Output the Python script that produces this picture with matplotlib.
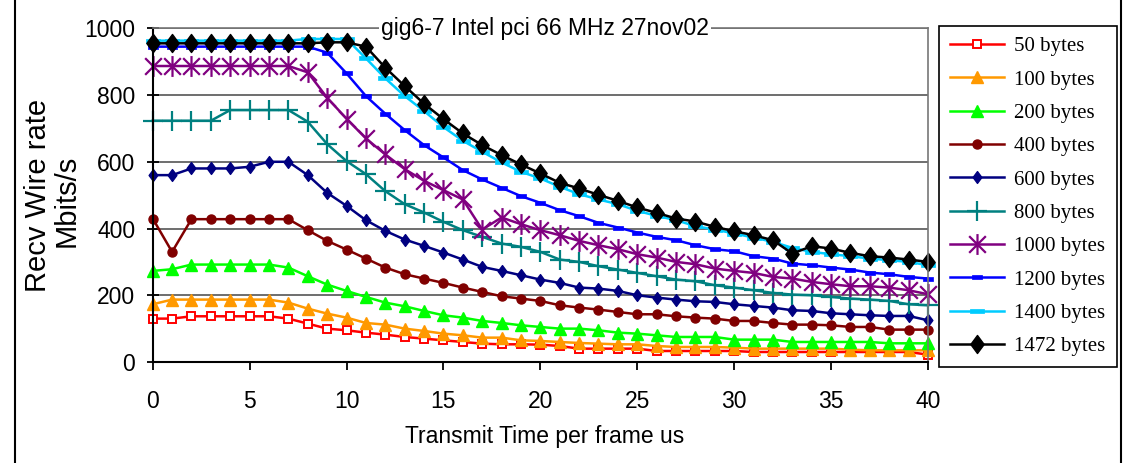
import numpy as np
import matplotlib
matplotlib.use("Agg")
import matplotlib.pyplot as plt
from matplotlib.path import Path
from matplotlib.lines import Line2D
from matplotlib import font_manager

# ---- data -------------------------------------------------------------
transmit_time = list(range(41))  # us per frame

b50 = [130, 130, 137, 137, 137, 137, 137, 130, 115, 100, 95, 88, 82, 75, 70, 65, 60, 55, 53, 53,
       52, 48, 40, 40, 40, 40, 33, 33, 33, 33, 33, 30, 30, 30, 30, 30, 30, 30, 30, 30, 22]
b100 = [173, 187, 187, 187, 187, 187, 187, 178, 160, 145, 133, 117, 112, 100, 93, 85, 80, 73, 73, 65,
        63, 60, 57, 55, 53, 53, 48, 45, 45, 45, 43, 40, 40, 40, 40, 40, 37, 35, 35, 35, 35]
b200 = [273, 278, 292, 292, 292, 292, 292, 283, 257, 232, 213, 195, 178, 167, 153, 140, 133, 123, 117, 110,
        105, 100, 100, 95, 88, 85, 80, 75, 75, 75, 67, 67, 67, 60, 60, 60, 60, 60, 56, 56, 56]
b400 = [430, 330, 428, 428, 428, 428, 428, 428, 395, 363, 337, 310, 283, 263, 250, 237, 223, 210, 197, 190,
        183, 170, 163, 157, 150, 143, 143, 137, 133, 130, 123, 123, 117, 112, 112, 110, 105, 105, 97, 97, 97]
b600 = [560, 560, 580, 580, 580, 585, 600, 600, 560, 507, 468, 425, 393, 367, 348, 328, 307, 285, 273, 260,
        247, 237, 223, 220, 213, 200, 193, 187, 182, 180, 173, 168, 163, 155, 153, 146, 143, 140, 138, 138, 125]
b800 = [723, 723, 723, 723, 755, 755, 755, 755, 720, 653, 602, 563, 512, 473, 448, 420, 395, 375, 355, 345,
        330, 307, 300, 287, 277, 267, 257, 247, 242, 230, 223, 215, 207, 202, 200, 195, 190, 187, 183, 173, 170]
b1000 = [887, 887, 887, 887, 887, 887, 887, 887, 868, 792, 729, 670, 622, 578, 543, 515, 487, 397, 433, 413,
         395, 380, 363, 350, 338, 323, 313, 300, 293, 280, 273, 267, 255, 250, 240, 233, 227, 227, 223, 215, 203]
b1200 = [945, 945, 945, 945, 945, 945, 945, 945, 945, 927, 865, 797, 744, 695, 650, 613, 575, 547, 522, 497,
         477, 455, 437, 417, 403, 388, 375, 365, 350, 338, 332, 317, 310, 295, 290, 283, 277, 268, 263, 255, 250]
b1400 = [963, 963, 963, 963, 963, 963, 963, 963, 968, 968, 968, 910, 850, 797, 752, 704, 663, 630, 598, 570,
         550, 525, 503, 487, 473, 453, 438, 425, 407, 397, 385, 373, 360, 342, 330, 323, 317, 310, 305, 300, 290]
b1472 = [955, 955, 955, 955, 955, 955, 955, 955, 955, 958, 958, 945, 882, 827, 774, 728, 685, 650, 620, 592,
         565, 537, 520, 501, 483, 463, 447, 430, 421, 405, 392, 380, 365, 325, 347, 340, 327, 317, 313, 307, 300]

labels = ["50 bytes", "100 bytes", "200 bytes", "400 bytes", "600 bytes",
          "800 bytes", "1000 bytes", "1200 bytes", "1400 bytes", "1472 bytes"]
x_ticks = [0, 5, 10, 15, 20, 25, 30, 35, 40]
y_ticks = [0, 200, 400, 600, 800, 1000]

# ---- fonts ------------------------------------------------------------
installed = {f.name for f in font_manager.fontManager.ttflist}
if "Liberation Sans Narrow" in installed:
    narrow, nsize = "Liberation Sans Narrow", 20
else:
    narrow, nsize = "Liberation Sans", 16.5
serif = "Liberation Serif"

# ---- custom markers ---------------------------------------------------
diamond = Path([(0, 1.15), (0.85, 0), (0, -1.15), (-0.85, 0), (0, 1.15)],
               [Path.MOVETO, Path.LINETO, Path.LINETO, Path.LINETO, Path.CLOSEPOLY])
asterisk = Path([(0, -1), (0, 1), (-0.8, -0.8), (0.8, 0.8), (-0.8, 0.8), (0.8, -0.8)],
                [Path.MOVETO, Path.LINETO, Path.MOVETO, Path.LINETO, Path.MOVETO, Path.LINETO])
short_dash = Path([(-1, -0.45), (1, -0.45), (1, 0.45), (-1, 0.45), (-1, -0.45)],
                  [Path.MOVETO, Path.LINETO, Path.LINETO, Path.LINETO, Path.CLOSEPOLY])
long_dash = Path([(-1, -0.3), (1, -0.3), (1, 0.3), (-1, 0.3), (-1, -0.3)],
                 [Path.MOVETO, Path.LINETO, Path.LINETO, Path.LINETO, Path.CLOSEPOLY])

styles = [
    dict(color="#FF0000", marker="s", ms=5.5, mfc="white", mec="#FF0000", mew=1.4),
    dict(color="#FF9900", marker="^", ms=8, mfc="#FF9900", mec="#FF9900"),
    dict(color="#00FF00", marker="^", ms=8, mfc="#00FF00", mec="#00FF00"),
    dict(color="#800000", marker="o", ms=6.5, mfc="#800000", mec="#800000"),
    dict(color="#000080", marker=diamond, ms=8.5, mfc="#000080", mec="#000080"),
    dict(color="#008080", marker="+", ms=15, mew=1.6, mec="#008080"),
    dict(color="#800080", marker=asterisk, ms=15, mfc="none", mec="#800080", mew=1.6),
    dict(color="#0000FF", marker=short_dash, ms=7.5, mfc="#0000FF", mec="#0000FF", mew=0.5),
    dict(color="#00CCFF", marker=long_dash, ms=10.5, mfc="#00CCFF", mec="#00CCFF", mew=0.5),
    dict(color="#000000", marker=diamond, ms=13, mfc="#000000", mec="#000000"),
]
series = [b50, b100, b200, b400, b600, b800, b1000, b1200, b1400, b1472]

# ---- figure -----------------------------------------------------------
W, H = 1128, 463
fig = plt.figure(figsize=(W / 100, H / 100), dpi=100)
x0, x1, y0, y1 = 152.7, 928.0, 28.3, 362.0
ax = fig.add_axes([x0 / W, 1 - y1 / H, (x1 - x0) / W, (y1 - y0) / H])

for vals, lab, st in zip(series, labels, styles):
    ax.plot(transmit_time, vals, label=lab, lw=1.8, clip_on=False, **st)

ax.set_xlim(0, 40)
ax.set_ylim(0, 1000)
ax.set_xticks(x_ticks)
ax.set_yticks(y_ticks)
ax.set_xticklabels([str(v) for v in x_ticks], family=narrow, fontsize=nsize)
ax.set_yticklabels([str(v) for v in y_ticks], family=narrow, fontsize=nsize)
ax.tick_params(axis="x", direction="out", length=6, width=1.3, pad=14, color="black")
ax.tick_params(axis="y", direction="inout", length=9, width=1.3, pad=8, color="black")

ax.yaxis.grid(True, color="#555555", lw=1.2)
ax.set_axisbelow(True)
for side in ("left", "bottom"):
    ax.spines[side].set_color("black")
    ax.spines[side].set_linewidth(1.5)
for side in ("top", "right"):
    ax.spines[side].set_color("#777777")
    ax.spines[side].set_linewidth(1.2)

# title sits on the top border with a white backing
ax.text(0.506, 1.0, "gig6-7 Intel pci 66 MHz 27nov02", transform=ax.transAxes,
        ha="center", va="center", family=narrow, fontsize=nsize, zorder=10,
        bbox=dict(facecolor="white", edgecolor="none", pad=1.5))

fig.text(545 / W, 1 - 437 / H, "Transmit Time per frame us", ha="center", va="center",
         family=narrow, fontsize=nsize)
fig.text(38 / W, 1 - 195 / H, "Recv Wire rate", rotation=90, ha="center", va="center",
         family="Liberation Sans", fontsize=21)
fig.text(67 / W, 1 - 201 / H, "Mbits/s", rotation=90, ha="center", va="center",
         family="Liberation Sans", fontsize=21)

leg = fig.legend(loc="upper left", bbox_to_anchor=(939 / W, 1 - 26 / H),
                 prop=dict(family=serif, size=15), frameon=True, fancybox=False,
                 edgecolor="black", framealpha=1, borderaxespad=0, borderpad=0.52,
                 handlelength=2.6, handletextpad=0.5, labelspacing=0.66, numpoints=1)
leg.get_frame().set_linewidth(1.2)

# outer chart border (left and right edges)
for xp in (15, 1121):
    fig.add_artist(Line2D([xp / W, xp / W], [0, 1], color="black", lw=1.5,
                          transform=fig.transFigure))

fig.savefig("out.png", dpi=100)
